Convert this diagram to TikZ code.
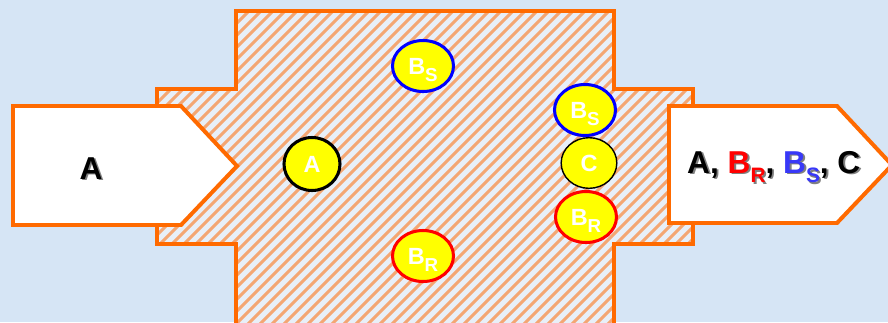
\documentclass[tikz,border=0pt]{standalone}
\usepackage{fontspec}
\setmainfont{Liberation Sans}
\usepackage{graphicx}
\usetikzlibrary{shapes.geometric}
\definecolor{bgblue}{HTML}{D6E5F5}
\definecolor{hatchback}{HTML}{E8EFF8}
\definecolor{wallorange}{HTML}{FF6A00}
\definecolor{hatchorange}{HTML}{F4A673}
\definecolor{molyellow}{HTML}{FFFF00}
\definecolor{textred}{HTML}{FF0000}
\definecolor{textblue}{HTML}{3838F8}
\definecolor{ringblue}{HTML}{0000FF}
\newcommand\tc[2]{\textcolor{#1}{#2}}
\newcommand\lo[2][0.66]{\smash{\raisebox{-0.3em}{\scalebox{#1}{#2}}}}
\newcommand\shadowed[1]{\rlap{\kern1.6pt\raisebox{-1.6pt}{\color{black!50}\def\tc##1##2{##2}#1}}#1}
\newcommand\reactorpath{(236,11) -- (614,11) -- (614,89) -- (693,89) -- (693,244) -- (614,244) -- (614,330) -- (236,330) -- (236,244) -- (157,244) -- (157,89) -- (236,89) -- cycle}
\tikzset{
    every node/.style={font=\bfseries},
    wall/.style={draw=wallorange,line width=3.4pt,line join=miter},
    hatch/.style={draw=hatchorange,line width=2.6pt},
    arrowbox/.style={wall,fill=white},
    streamtext/.style={font=\fontsize{27}{30}\selectfont\bfseries,anchor=base,inner sep=0pt},
    mol/.style={ellipse,fill=molyellow,line width=2.6pt,inner sep=0pt,text=white,
        font=\fontsize{20}{22}\selectfont\bfseries,minimum width=1.83cm,minimum height=1.53cm}
}
\begin{document}
\begin{tikzpicture}[x=0.03cm,y=-0.03cm]
\clip (0,0) rectangle (888,322);
\fill[bgblue] (0,0) rectangle (888,322);
% reactor
\fill[hatchback] \reactorpath;
\begin{scope}
\clip \reactorpath;
\foreach \k in {-190,-178,...,710}
    \draw[hatch] (\k,330) -- ++(340,-340);
\end{scope}
\draw[wall] \reactorpath;
% feed and product
\draw[arrowbox] (13,106) -- (181,106) -- (237,166) -- (181,225) -- (13,225) -- cycle;
\draw[arrowbox] (669,106) -- (837,106) -- (892,165) -- (837,223) -- (669,223) -- cycle;
\node[streamtext] (feed) at (91,179) {\shadowed{A}};
\node[streamtext,anchor=base west] (product) at (687,173)
    {\shadowed{A, \tc{textred}{B\lo{R}}, \tc{textblue}{B\lo{S}}, C}};
% molecules
\node[mol,draw=ringblue] (bs) at (423,66) {B\lo[0.8]{S}};
\node[mol,draw=black,minimum width=1.68cm,minimum height=1.59cm] (a) at (312,164) {A};
\node[mol,draw=textred] (br) at (423,256) {B\lo[0.8]{R}};
\node[mol,draw=ringblue] (bsout) at (585,110) {B\lo[0.8]{S}};
\node[mol,draw=black,line width=1.2pt,minimum width=1.67cm,minimum height=1.52cm] (cout) at (589,163) {C};
\node[mol,draw=textred] (brout) at (586,217) {B\lo[0.8]{R}};
\end{tikzpicture}
\end{document}
